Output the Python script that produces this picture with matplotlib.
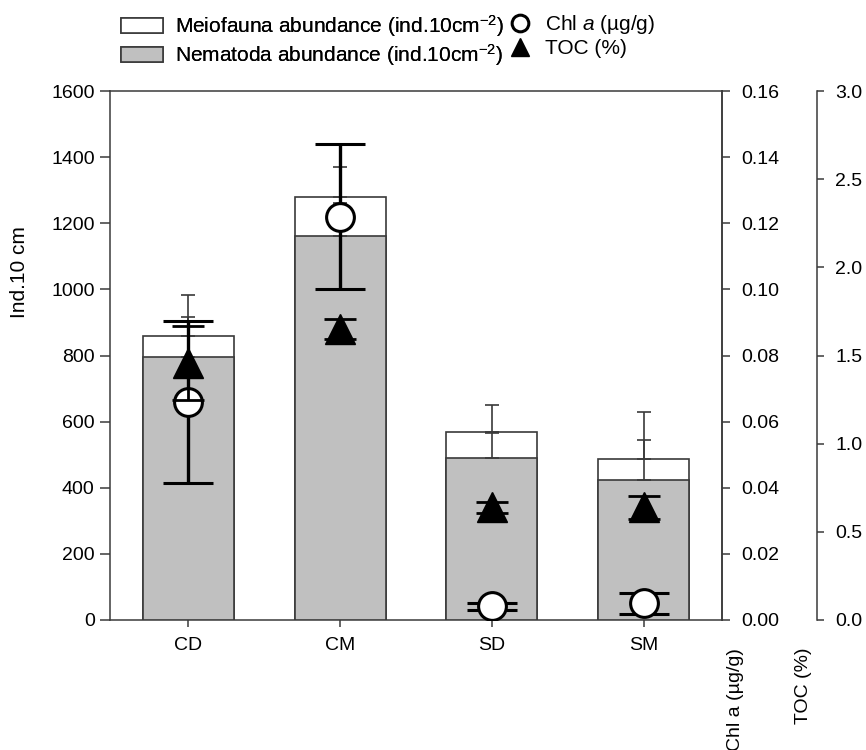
import matplotlib
matplotlib.use("Agg")
import matplotlib.pyplot as plt
from matplotlib.patches import Patch
from matplotlib.lines import Line2D
import numpy as np

plt.rcParams['font.family'] = ['Liberation Sans', 'DejaVu Sans']
plt.rcParams['mathtext.fontset'] = 'custom'
plt.rcParams['mathtext.rm'] = 'Liberation Sans'
plt.rcParams['mathtext.it'] = 'Liberation Sans:italic'

sites = ['CD', 'CM', 'SD', 'SM']
meio = [859, 1278, 570, 488]
meio_sd = [125, 93, 80, 140]
nema = [794, 1162, 491, 423]
nema_sd = [121, 100, 75, 121]
chl = [0.066, 0.122, 0.0041, 0.0050]
chl_sd = [0.0245, 0.022, 0.0011, 0.0033]
toc = [1.46, 1.65, 0.64, 0.64]
toc_sd = [0.21, 0.055, 0.032, 0.066]

spc = '#3a3a3a'
fig = plt.figure(figsize=(8.66, 7.5), dpi=100)
ax = fig.add_axes([110/866, 130/750, 612/866, 529/750])
x = np.arange(len(sites))

ax.bar(x, meio, width=0.6, color='white', edgecolor=spc, linewidth=1.2, zorder=2)
ax.bar(x, nema, width=0.6, color='#c0c0c0', edgecolor=spc, linewidth=1.2, zorder=3)
ax.errorbar(x, meio, yerr=[np.zeros(4), meio_sd], fmt='none', ecolor=spc,
            elinewidth=1.2, capsize=4.7, capthick=1.2, zorder=4)
ax.errorbar(x, nema, yerr=[np.zeros(4), nema_sd], fmt='none', ecolor=spc,
            elinewidth=1.2, capsize=4.7, capthick=1.2, zorder=4)

ax.set_xlim(-0.517, 3.517)
ax.set_ylim(0, 1600)
ax.set_yticks(np.arange(0, 1601, 200))
ax.set_xticks(x)
ax.set_xticklabels(sites)
for s in ax.spines.values():
    s.set_color(spc)
    s.set_linewidth(1.1)
ax.tick_params(axis='y', direction='out', length=7, width=1.1, color=spc, pad=4, labelsize=14, right=False)
ax.tick_params(axis='x', direction='out', length=5, width=1.1, color=spc, pad=7, labelsize=14, top=False)
fig.text(20/866, 1 - 272/750, 'Ind.10 cm', rotation=90, ha='center', va='center', fontsize=15)

ax2 = ax.twinx()
ax2.set_ylim(0, 0.16)
ax2.set_yticks(np.arange(0, 0.161, 0.02))
ax2.set_yticklabels([f'{v:.2f}' for v in np.arange(0, 0.161, 0.02)])
for s in ax2.spines.values():
    s.set_visible(False)
ax2.spines['right'].set_visible(True)
ax2.spines['right'].set_color(spc)
ax2.spines['right'].set_linewidth(1.1)
ax2.tick_params(axis='y', direction='out', length=6, width=1.1, color=spc, pad=8, labelsize=14)
ax2.errorbar(x, chl, yerr=chl_sd, fmt='o', color='black', mfc='white', mec='black',
             ms=20, mew=2.2, elinewidth=2.4, capsize=18, capthick=2.4, zorder=5)

ax3 = ax.twinx()
ax3.set_ylim(0, 3.0)
ax3.set_yticks(np.arange(0, 3.01, 0.5))
ax3.set_yticklabels([f'{v:.1f}' for v in np.arange(0, 3.01, 0.5)])
for s in ax3.spines.values():
    s.set_visible(False)
ax3.spines['right'].set_visible(True)
ax3.spines['right'].set_position(('axes', (817 - 110) / 612))
ax3.spines['right'].set_color(spc)
ax3.spines['right'].set_linewidth(1.1)
ax3.tick_params(axis='y', direction='out', length=5, width=1.1, color=spc, pad=8, labelsize=14)
ax3.errorbar(x, toc, yerr=toc_sd, fmt='^', color='black', mfc='black', mec='black',
             ms=21, elinewidth=2.0, capsize=11.5, capthick=2.0, zorder=5)

fig.text(735/866, 1 - 648/750, 'Chl a (µg/g)', rotation=90, ha='center', va='top', fontsize=14)
fig.text(803/866, 1 - 648/750, 'TOC (%)', rotation=90, ha='center', va='top', fontsize=14)

h1 = [Patch(facecolor='white', edgecolor=spc, linewidth=1.2),
      Patch(facecolor='#c0c0c0', edgecolor=spc, linewidth=1.2)]
l1 = ['Meiofauna abundance (ind.10cm$^{-2}$)',
      'Nematoda abundance (ind.10cm$^{-2}$)']
h2 = [Line2D([], [], marker='o', ls='none', mfc='white', mec='black', mew=2.2, ms=12),
      Line2D([], [], marker='^', ls='none', color='black', ms=13)]
l2 = ['Chl $\\mathit{a}$ (µg/g)', 'TOC (%)']

leg1 = fig.legend(h1, l1, loc='upper left', bbox_to_anchor=(117/866, 1 - 9/750),
                  frameon=False, fontsize=15, handlelength=2.0, handleheight=0.67,
                  handletextpad=0.6, labelspacing=0.15, borderpad=0.2, borderaxespad=0)
fig.add_artist(leg1)
fig.legend(h2, l2, loc='upper left', bbox_to_anchor=(505/866, 1 - 9/750),
           frameon=False, fontsize=15, handlelength=1.0, handleheight=0.67,
           handletextpad=0.72, labelspacing=0.15, borderpad=0.2, borderaxespad=0)

fig.savefig('out.png', dpi=100)
